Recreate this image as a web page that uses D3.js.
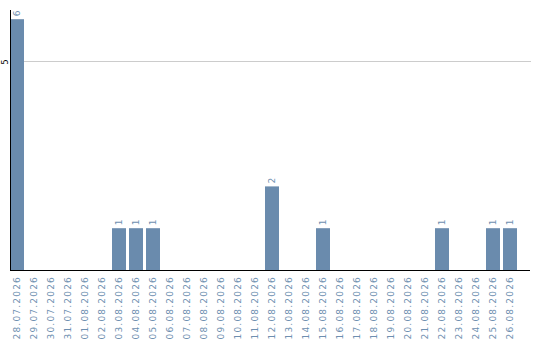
<!DOCTYPE html>
<html>
<head>
<meta charset="utf-8">
<script src="https://cdn.jsdelivr.net/npm/d3@7"></script>
<style>
  html, body { margin: 0; padding: 0; background: #fff; }
  svg { display: block; }
</style>
</head>
<body>
<svg id="chart" width="540" height="340"></svg>
<script>
// Daily counts, 28.07.2026 – 26.08.2026
const categories = [
  "28.07.2026", "29.07.2026", "30.07.2026", "31.07.2026", "01.08.2026",
  "02.08.2026", "03.08.2026", "04.08.2026", "05.08.2026", "06.08.2026",
  "07.08.2026", "08.08.2026", "09.08.2026", "10.08.2026", "11.08.2026",
  "12.08.2026", "13.08.2026", "14.08.2026", "15.08.2026", "16.08.2026",
  "17.08.2026", "18.08.2026", "19.08.2026", "20.08.2026", "21.08.2026",
  "22.08.2026", "23.08.2026", "24.08.2026", "25.08.2026", "26.08.2026"
];
const values = [
  6, 0, 0, 0, 0,
  0, 1, 1, 1, 0,
  0, 0, 0, 0, 0,
  2, 0, 0, 1, 0,
  0, 0, 0, 0, 0,
  1, 0, 0, 1, 1
];
const yTicks = [5];

const svg = d3.select("#chart");
const plotLeft = 10, plotRight = 530, plotTop = 10, plotBottom = 270;
const barColor = "#6a8bad";
const textColor = "#6e8fb0";

const x = d3.scaleBand()
  .domain(categories)
  .range([plotLeft, 517])
  .paddingInner(3 / 17)
  .paddingOuter(0)
  .align(0);

const y = d3.scaleLinear()
  .domain([0, 6.22])
  .range([plotBottom, plotTop]);

// horizontal grid lines
svg.append("g")
  .selectAll("line")
  .data(yTicks)
  .join("line")
  .attr("x1", plotLeft)
  .attr("x2", plotRight + 1)
  .attr("y1", d => Math.round(y(d)) + 0.5)
  .attr("y2", d => Math.round(y(d)) + 0.5)
  .attr("stroke", "#cccccc")
  .attr("stroke-width", 1);

// y tick labels
svg.append("g")
  .selectAll("text")
  .data(yTicks)
  .join("text")
  .attr("transform", d => `translate(7.5,${Math.round(y(d)) + 1}) rotate(-90)`)
  .attr("text-anchor", "middle")
  .attr("font-family", "DejaVu Sans, sans-serif")
  .attr("font-size", 8)
  .attr("fill", "#000")
  .text(d => d);

// bars
svg.append("g")
  .selectAll("rect")
  .data(values.map((v, i) => ({ c: categories[i], v })))
  .join("rect")
  .attr("x", d => x(d.c))
  .attr("y", d => y(d.v))
  .attr("width", x.bandwidth())
  .attr("height", d => y(0) - y(d.v))
  .attr("fill", barColor);

// value labels above non-empty bars
svg.append("g")
  .selectAll("text")
  .data(values.map((v, i) => ({ c: categories[i], v })).filter(d => d.v > 0))
  .join("text")
  .attr("transform", d => `translate(${x(d.c) + x.bandwidth() / 2 + 3},${y(d.v) - 3}) rotate(-90)`)
  .attr("text-anchor", "start")
  .attr("font-family", "DejaVu Sans, sans-serif")
  .attr("font-size", 9)
  .attr("fill", textColor)
  .text(d => d.v);

// axis lines
svg.append("line")
  .attr("x1", plotLeft + 0.5).attr("x2", plotLeft + 0.5)
  .attr("y1", plotTop).attr("y2", plotBottom)
  .attr("stroke", "#000");
svg.append("line")
  .attr("x1", plotLeft).attr("x2", plotRight)
  .attr("y1", plotBottom + 0.5).attr("y2", plotBottom + 0.5)
  .attr("stroke", "#000");

// category labels
svg.append("g")
  .selectAll("text")
  .data(categories)
  .join("text")
  .attr("transform", d => `translate(${x(d) + x.bandwidth() / 2 + 3},276) rotate(-90)`)
  .attr("text-anchor", "end")
  .attr("font-family", "DejaVu Sans, sans-serif")
  .attr("font-size", 9)
  .attr("letter-spacing", 1.2)
  .attr("fill", textColor)
  .text(d => d);
</script>
</body>
</html>
